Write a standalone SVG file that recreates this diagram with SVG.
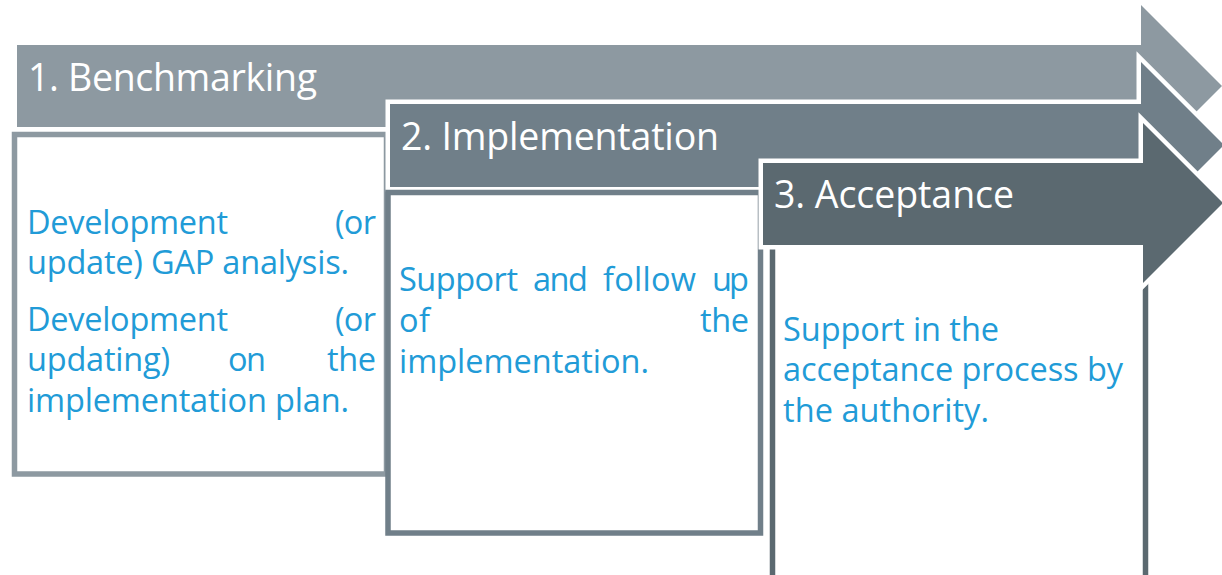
<svg xmlns="http://www.w3.org/2000/svg" width="1222" height="575" viewBox="0 0 1222 575">
<style>
.arrow{stroke:#FFFFFF;stroke-width:9;stroke-linejoin:miter;stroke-miterlimit:10;paint-order:stroke fill}
.box{fill:#FFFFFF;stroke-width:5.5}
.title{font-family:"Open Sans","Liberation Sans",sans-serif;font-size:37.5px;fill:#FFFFFF}
.body{font-family:"Open Sans","Liberation Sans",sans-serif;font-size:32.5px;fill:#219BD7}
</style>
<rect width="1222" height="575" fill="#FFFFFF"/>
<g id="stage1">
<polygon class="arrow" fill="#8D99A1" points="17,45 1141,45 1141,5 1222,86 1141,167 1141,127 17,127"/>
<rect class="box" stroke="#8D99A1" x="14.5" y="134.5" width="372" height="339.5"/>
<text class="title" x="28" y="91" textLength="289" lengthAdjust="spacing">1. Benchmarking</text>
<text class="body" x="27" y="234" textLength="201" lengthAdjust="spacing">Development</text>
<text class="body" x="335" y="234" textLength="41" lengthAdjust="spacing">(or</text>
<text class="body" x="27" y="274" textLength="322" lengthAdjust="spacing">update) GAP analysis.</text>
<text class="body" x="27" y="331" textLength="201" lengthAdjust="spacing">Development</text>
<text class="body" x="335" y="331" textLength="41" lengthAdjust="spacing">(or</text>
<text class="body" x="27" y="371" textLength="143" lengthAdjust="spacing">updating)</text>
<text class="body" x="228" y="371" textLength="38" lengthAdjust="spacing">on</text>
<text class="body" x="327" y="371" textLength="49" lengthAdjust="spacing">the</text>
<text class="body" x="27" y="412" textLength="322" lengthAdjust="spacing">implementation plan.</text>
</g>
<g id="stage2">
<polygon class="arrow" fill="#707F89" points="390,104 1141,104 1141,62 1224,145 1141,228 1141,187 390,187"/>
<rect class="box" stroke="#707F89" x="388" y="192.5" width="372.5" height="340.5"/>
<text class="title" x="401" y="150" textLength="318" lengthAdjust="spacing">2. Implementation</text>
<text class="body" x="399" y="291" textLength="119" lengthAdjust="spacing">Support</text>
<text class="body" x="533" y="291" textLength="55" lengthAdjust="spacing">and</text>
<text class="body" x="603" y="291" textLength="93" lengthAdjust="spacing">follow</text>
<text class="body" x="712" y="291" textLength="37" lengthAdjust="spacing">up</text>
<text class="body" x="399" y="332" textLength="31" lengthAdjust="spacing">of</text>
<text class="body" x="700" y="332" textLength="49" lengthAdjust="spacing">the</text>
<text class="body" x="399" y="373" textLength="250" lengthAdjust="spacing">implementation.</text>
</g>
<g id="stage3">
<rect class="box" stroke="#5B6970" x="772.5" y="243" width="373" height="400"/>
<polygon class="arrow" fill="#5B6970" points="763,163 1143,163 1143,123 1223,203 1143,283 1143,245 763,245"/>
<text class="title" x="774" y="208" textLength="240" lengthAdjust="spacing">3. Acceptance</text>
<text class="body" x="783" y="341" textLength="216" lengthAdjust="spacing">Support in the</text>
<text class="body" x="783" y="381" textLength="340" lengthAdjust="spacing">acceptance process by</text>
<text class="body" x="783" y="422" textLength="206" lengthAdjust="spacing">the authority.</text>
</g>
<g id="connectors"/>
</svg>
